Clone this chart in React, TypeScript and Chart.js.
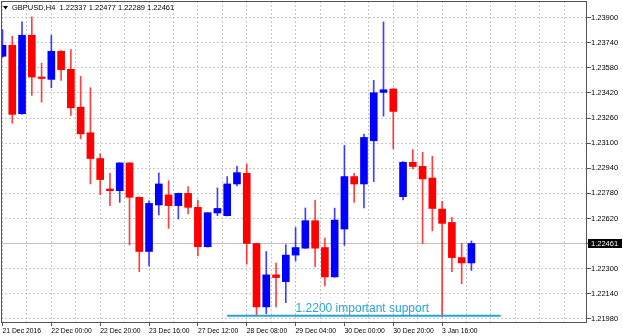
import React, { useEffect, useRef } from "react";
import { Chart, registerables } from "chart.js";

Chart.register(...registerables);

const SYMBOL = "GBPUSD,H4";

const opens = [
  1.23653, 1.23723, 1.23287, 1.23787, 1.23521, 1.23506, 1.23685, 1.2357, 1.23329, 1.23166,
  1.23002, 1.22808, 1.22797, 1.22974, 1.22755, 1.2241, 1.22706, 1.2277, 1.22702, 1.2278,
  1.22691, 1.2244, 1.22655, 1.22638, 1.2284, 1.22908, 1.22461, 1.22057, 1.22261, 1.22218,
  1.22387, 1.22431, 1.22606, 1.22435, 1.22248, 1.22553, 1.22887, 1.2284, 1.23115, 1.23423,
  1.23445, 1.22759, 1.22978, 1.22952, 1.22878, 1.2268, 1.22595, 1.22371, 1.22337,
];
const highs = [
  1.23823, 1.23781, 1.23872, 1.23904, 1.2361, 1.23787, 1.2369, 1.23696, 1.23525, 1.23453,
  1.23032, 1.22908, 1.22976, 1.22976, 1.22759, 1.22733, 1.2291, 1.22861, 1.22782, 1.22823,
  1.22738, 1.22657, 1.22815, 1.22887, 1.22952, 1.22968, 1.22463, 1.2241, 1.22336, 1.22453,
  1.22563, 1.22687, 1.22738, 1.22495, 1.22686, 1.23085, 1.22908, 1.23158, 1.235, 1.23872,
  1.23447, 1.22983, 1.23059, 1.23042, 1.23016, 1.22729, 1.22627, 1.22461, 1.22477,
];
const lows = [
  1.23647, 1.23227, 1.23285, 1.23404, 1.23361, 1.23453, 1.235, 1.23276, 1.23127, 1.2284,
  1.22772, 1.22702, 1.22723, 1.22451, 1.22282, 1.22318, 1.22642, 1.22557, 1.22617, 1.22649,
  1.22382, 1.22438, 1.22638, 1.22636, 1.22827, 1.22329, 1.21999, 1.22014, 1.22057, 1.22084,
  1.2235, 1.22429, 1.22314, 1.22191, 1.22246, 1.22449, 1.22723, 1.22687, 1.22855, 1.23272,
  1.23064, 1.22738, 1.22936, 1.22461, 1.22542, 1.21993, 1.22282, 1.22205, 1.22289,
];
const closes = [
  1.23723, 1.23283, 1.23787, 1.23521, 1.23512, 1.23685, 1.23568, 1.23325, 1.23159, 1.23002,
  1.22868, 1.22797, 1.22974, 1.22755, 1.2241, 1.22716, 1.2284, 1.22702, 1.2278, 1.22691,
  1.2244, 1.22657, 1.22684, 1.2284, 1.22912, 1.22461, 1.22057, 1.22261, 1.22244, 1.22387,
  1.22435, 1.22606, 1.22431, 1.22248, 1.2261, 1.22887, 1.2284, 1.23136, 1.23421, 1.2344,
  1.23302, 1.22978, 1.22951, 1.22872, 1.22684, 1.22589, 1.22371, 1.22337, 1.22461,
];

const timeLabels = [
  "21 Dec 2016", "22 Dec 00:00", "22 Dec 20:00", "23 Dec 16:00", "27 Dec 12:00",
  "28 Dec 08:00", "29 Dec 04:00", "30 Dec 00:00", "30 Dec 20:00", "3 Jan 16:00",
];
const barsPerLabel = 5;
const barsPerGrid = 2.5;

const priceTicks = [
  1.2198, 1.2214, 1.223, 1.2246, 1.2262, 1.2278, 1.2294, 1.231, 1.2326, 1.2342, 1.2358, 1.2374, 1.239,
];

const supportPrice = 1.22;
const supportFromBar = 23;
const supportToBar = 51;
const supportText = "1.2200 important support";
const supportTextBar = 30;
const supportTextPrice = 1.22027;

const Y_MIN = 1.219545;
const Y_MAX = 1.240051;
const X_MIN = -0.1535;
const X_MAX = 59.83;

const BULL = "#0000ff";
const BEAR = "#ff0000";
const BULL_WICK = "rgba(0,0,255,0.75)";
const BEAR_WICK = "rgba(255,0,0,0.75)";
const GRID = "#c8c8c8";
const FRAME = "#555555";
const SUPPORT = "#2aa4d6";
const FONT = "'Liberation Sans', Arial, sans-serif";

const gridTicks: number[] = [];
for (let v = 0; v <= X_MAX; v += barsPerGrid) gridTicks.push(v);

function labelFor(v: number): string {
  const k = Math.round(v / barsPerLabel);
  if (Math.abs(v - k * barsPerLabel) < 1e-6 && k >= 0 && k < timeLabels.length) return timeLabels[k];
  return "";
}

const mt4Plugin = {
  id: "mt4",
  beforeDatasetsDraw(chart: any) {
    const { ctx, chartArea, scales } = chart;
    const y = Math.round(scales.y.getPixelForValue(closes[closes.length - 1])) + 0.5;
    ctx.save();
    ctx.strokeStyle = "#c0c0c0";
    ctx.lineWidth = 1;
    ctx.beginPath();
    ctx.moveTo(chartArea.left, y);
    ctx.lineTo(chartArea.right, y);
    ctx.stroke();
    ctx.restore();
  },
  afterDatasetsDraw(chart: any) {
    const { ctx, scales } = chart;
    const x1 = scales.x.getPixelForValue(supportFromBar);
    const x2 = scales.x.getPixelForValue(supportToBar);
    const y = scales.y.getPixelForValue(supportPrice);
    ctx.save();
    ctx.strokeStyle = SUPPORT;
    ctx.lineWidth = 2;
    ctx.beginPath();
    ctx.moveTo(x1, y);
    ctx.lineTo(x2, y);
    ctx.stroke();
    ctx.fillStyle = SUPPORT;
    ctx.font = `12px ${FONT}`;
    ctx.textAlign = "left";
    ctx.textBaseline = "alphabetic";
    ctx.fillText(supportText, scales.x.getPixelForValue(supportTextBar), scales.y.getPixelForValue(supportTextPrice));
    ctx.restore();
  },
  afterDraw(chart: any) {
    const { ctx, chartArea, scales, width } = chart;
    const { left, right, top, bottom } = chartArea;
    ctx.save();
    ctx.strokeStyle = FRAME;
    ctx.lineWidth = 1;
    ctx.strokeRect(left + 0.5, top + 0.5, right - left - 1, bottom - top - 1);

    // current price box
    const last = closes[closes.length - 1];
    const py = Math.round(scales.y.getPixelForValue(last));
    ctx.fillStyle = "#000";
    ctx.fillRect(right + 1, py - 4, width - right - 2, 9);
    ctx.fillStyle = "#fff";
    ctx.font = `7.5px ${FONT}`;
    ctx.textAlign = "left";
    ctx.textBaseline = "middle";
    ctx.fillText(last.toFixed(5), right + 4, py + 0.5);

    // header
    const n = closes.length - 1;
    ctx.fillStyle = "#000";
    ctx.beginPath();
    ctx.moveTo(3, 6);
    ctx.lineTo(8, 6);
    ctx.lineTo(5.5, 9.5);
    ctx.closePath();
    ctx.fill();
    ctx.font = `7.5px ${FONT}`;
    ctx.textBaseline = "middle";
    const hdr = `${SYMBOL}  ${opens[n].toFixed(5)} ${highs[n].toFixed(5)} ${lows[n].toFixed(5)} ${closes[n].toFixed(5)}`;
    ctx.fillText(hdr, 12, 8);
    ctx.restore();
  },
};

export default function App() {
  const ref = useRef<HTMLCanvasElement | null>(null);
  useEffect(() => {
    document.body.style.margin = "0";
    if (!ref.current) return;
    const up = closes.map((c, i) => c >= opens[i]);
    const chart = new Chart(ref.current, {
      type: "bar",
      data: {
        datasets: [
          {
            label: "wicks",
            data: opens.map((_, i) => ({ x: i, y: [lows[i], highs[i]] })) as any,
            backgroundColor: up.map((u) => (u ? BULL_WICK : BEAR_WICK)),
            barThickness: 1,
            grouped: false,
            borderWidth: 0,
          } as any,
          {
            label: "bodies",
            data: opens.map((o, i) => ({ x: i, y: [o, closes[i]] })) as any,
            backgroundColor: up.map((u) => (u ? BULL : BEAR)),
            barThickness: 7,
            grouped: false,
            borderWidth: 0,
          } as any,
        ],
      },
      options: {
        animation: false,
        responsive: false,
        events: [],
        layout: { padding: { left: 1, top: 1, right: 0, bottom: 0 } },
        plugins: { legend: { display: false }, tooltip: { enabled: false } },
        scales: {
          x: {
            type: "linear",
            min: X_MIN,
            max: X_MAX,
            offset: false,
            afterBuildTicks: (s: any) => {
              s.ticks = gridTicks.map((v) => ({ value: v }));
            },
            afterFit: (s: any) => {
              s.height = 13;
              s.paddingLeft = 0;
              s.paddingRight = 0;
            },
            grid: {
              color: GRID,
              offset: false,
              tickLength: 3,
              tickColor: (c: any) => (c.tick && labelFor(c.tick.value) ? FRAME : "rgba(0,0,0,0)"),
            },
            border: { display: false, dash: [2, 2] },
            ticks: {
              autoSkip: false,
              maxRotation: 0,
              minRotation: 0,
              align: "start",
              padding: 1,
              color: "#000",
              font: { family: FONT, size: 6.8 },
              callback: (v: any) => labelFor(Number(v)),
            },
          } as any,
          y: {
            type: "linear",
            position: "right",
            min: Y_MIN,
            max: Y_MAX,
            afterBuildTicks: (s: any) => {
              s.ticks = priceTicks.map((v) => ({ value: v }));
            },
            afterFit: (s: any) => {
              s.width = 36;
              s.paddingTop = 0;
              s.paddingBottom = 0;
            },
            grid: { color: GRID, tickLength: 4, tickColor: FRAME },
            border: { display: false, dash: [2, 2] },
            ticks: {
              padding: 0,
              color: "#000",
              font: { family: FONT, size: 7.5 },
              callback: (v: any) => Number(v).toFixed(5),
            },
          } as any,
        },
      },
      plugins: [mt4Plugin],
    } as any);
    return () => chart.destroy();
  }, []);
  return (
    <div style={{ width: 623, height: 336, background: "#fff" }}>
      <canvas ref={ref} width={623} height={336} style={{ display: "block" }} />
    </div>
  );
}
